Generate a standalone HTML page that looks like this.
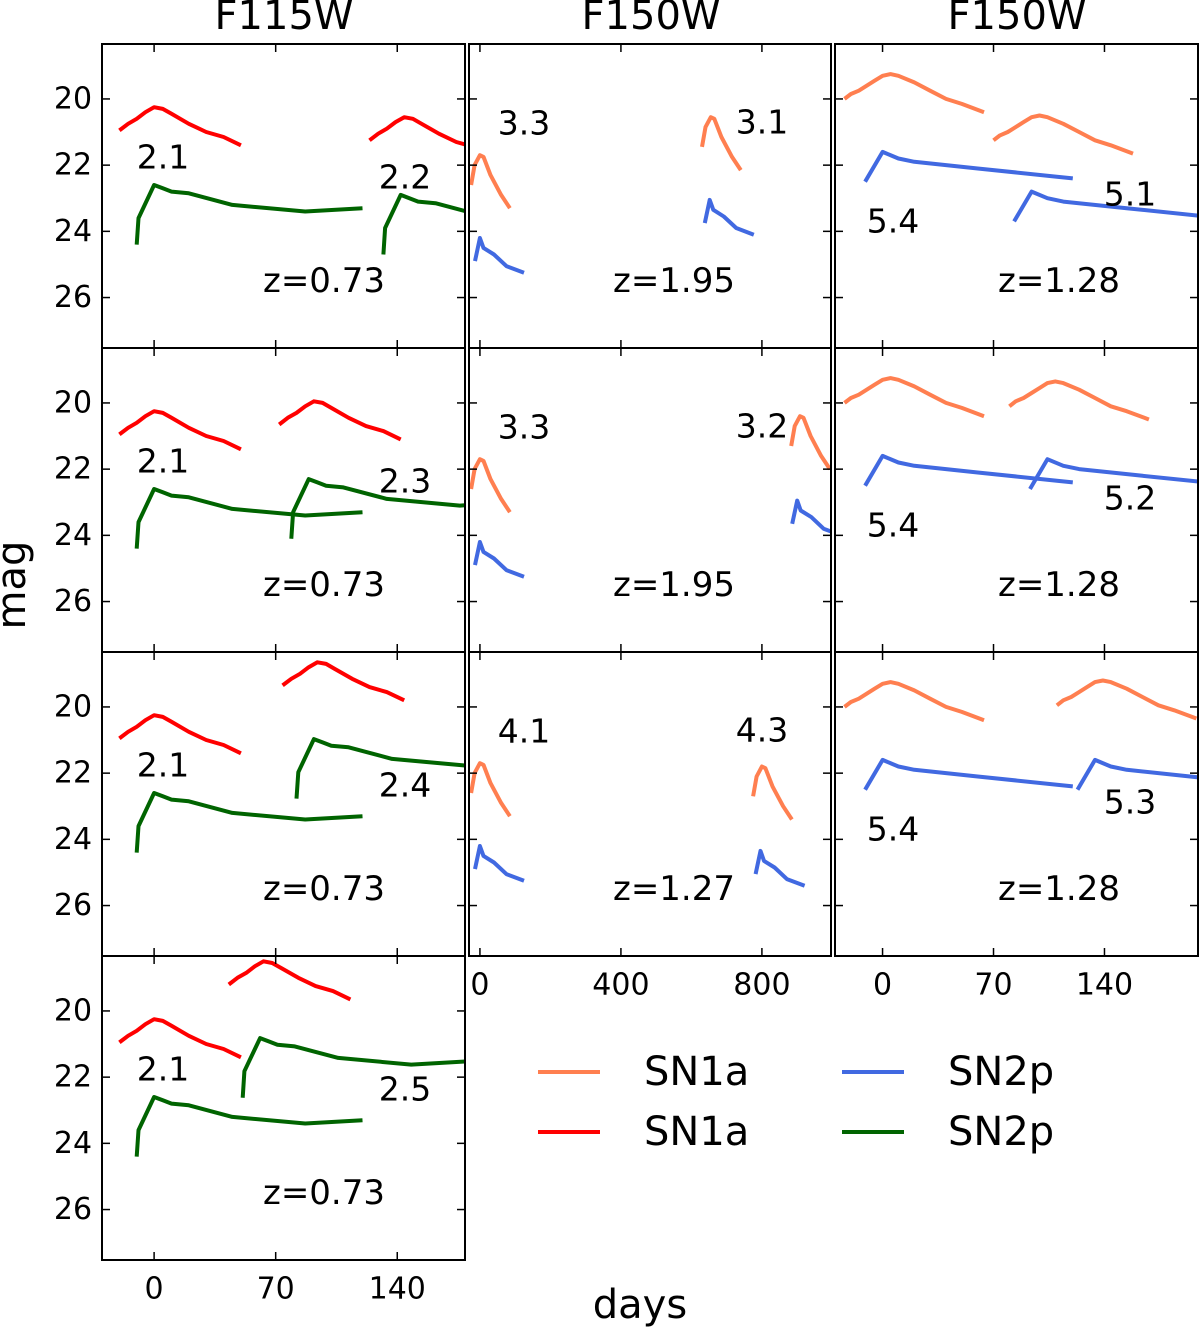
<!DOCTYPE html>
<html><head><meta charset="utf-8"><style>
body{margin:0;background:#fff}
svg{display:block;font-family:"DejaVu Sans","Liberation Sans",sans-serif}
</style></head><body>
<svg id="c" width="1200" height="1327" viewBox="0 0 1200 1327" xmlns="http://www.w3.org/2000/svg"></svg>
<script>
// ---- data ----
const ia_c1_days=[-20,-15,-10,-5,0,5,10,20,30,40,50];
const ia_c1_mag=[20.95,20.75,20.6,20.4,20.25,20.3,20.45,20.75,21.0,21.15,21.4];
const iip_c1_days=[-10,-9,0,5,10,20,45,87,120];
const iip_c1_mag=[24.4,23.6,22.6,22.7,22.8,22.85,23.2,23.4,23.3];
const ia_c2_days=[-25,-15,0,10,30,60,85];
const ia_c2_mag=[22.6,22.0,21.7,21.75,22.3,22.9,23.3];
const iip_c2_days=[-14,0,10,40,75,125];
const iip_c2_mag=[24.9,24.2,24.5,24.7,25.05,25.25];
const ia_c3_days=[-24,-20,-15,-10,-5,0,5,10,20,30,40,50,64];
const ia_c3_mag=[20.0,19.85,19.75,19.6,19.45,19.3,19.25,19.3,19.5,19.75,20.0,20.15,20.4];
const iip_c3_days=[-11,0,10,20,60,110,120];
const iip_c3_mag=[22.5,21.6,21.8,21.9,22.1,22.35,22.4];
const panelCol=[0,0,0,0,1,1,1,2,2,2];
const panelRow=[0,1,2,3,0,1,2,0,1,2];
const delayIa=[144,92,94,63,655,908,800,94,104,134];
const delayIIp=[142,89,92,61,652,900,796,94,104,134];
const dmIa=[0.3,-0.3,-1.6,-1.75,-1.15,-1.3,0.1,1.25,0.1,-0.05];
const dmIIp=[0.3,-0.3,-1.63,-1.78,-1.15,-1.25,0.15,1.2,0.1,0.0];
const label1=["2.1","2.1","2.1","2.1","3.3","3.3","4.1","5.4","5.4","5.4"];
const label2=["2.2","2.3","2.4","2.5","3.1","3.2","4.3","5.1","5.2","5.3"];
const zLabel=["z=0.73","z=0.73","z=0.73","z=0.73","z=1.95","z=1.95","z=1.27","z=1.28","z=1.28","z=1.28"];
const xTicks=[[0,70,140],[0,400,800],[0,70,140]];
const yTicks=[20,22,24,26];
const legendNames=["SN1a","SN1a","SN2p","SN2p"];

const svg=document.getElementById('c');
const NS='http://www.w3.org/2000/svg';
const colL=[102,469,835],colR=[465,831,1198];
const dayMin=[-30,-31,-30],dayMax=[179,996,199];
const rowTop=[44,348,652,956],rowH=304;
const magTop=18.34,pxPerMag=33.1;
const colorsIa=['#ff0000','#ff7f50','#ff7f50'];
const colorsIIp=['#006400','#4169e1','#4169e1'];
function xs(c,d){return colL[c]+(d-dayMin[c])/(dayMax[c]-dayMin[c])*(colR[c]-colL[c]);}
function ys(r,m){return rowTop[r]+(m-magTop)*pxPerMag;}
function el(t,a,p){const e=document.createElementNS(NS,t);for(const k in a)e.setAttribute(k,a[k]);(p||svg).appendChild(e);return e;}
function txt(x,y,s,size,name,p){const t=el('text',{x:x,y:y,'font-size':size,'text-anchor':'middle','dominant-baseline':'central',fill:'#000'},p);t.textContent=s;


return t;}
const defs=el('defs',{});
const tmpl={ia:[[ia_c1_days,ia_c1_mag],[ia_c2_days,ia_c2_mag],[ia_c3_days,ia_c3_mag]],iip:[[iip_c1_days,iip_c1_mag],[iip_c2_days,iip_c2_mag],[iip_c3_days,iip_c3_mag]]};
function curve(g,c,r,days,mags,shift,dm,color,name){
  const pts=days.map((d,i)=>xs(c,d+shift).toFixed(1)+','+ys(r,mags[i]+dm).toFixed(1)).join(' ');
  const p=el('polyline',{points:pts,fill:'none',stroke:color,'stroke-width':4,'stroke-linejoin':'round'},g);
  
  
}
for(let i=0;i<panelCol.length;i++){
  const c=panelCol[i],r=panelRow[i],x0=colL[c],x1=colR[c],y0=rowTop[r],y1=y0+rowH;
  const g=el('g',{});
  
  
  const cp=el('clipPath',{id:'cp'+i},defs);
  el('rect',{x:x0,y:y0,width:x1-x0,height:rowH},cp);
  const cg=el('g',{'clip-path':'url(#cp'+i+')'},g);
  const [ad,am]=tmpl.ia[c],[pd,pm]=tmpl.iip[c];
  curve(cg,c,r,ad,am,0,0,colorsIa[c],'sn1a-image1');
  curve(cg,c,r,ad,am,delayIa[i],dmIa[i],colorsIa[c],'sn1a-image2');
  curve(cg,c,r,pd,pm,0,0,colorsIIp[c],'sn2p-image1');
  curve(cg,c,r,pd,pm,delayIIp[i],dmIIp[i],colorsIIp[c],'sn2p-image2');
  xTicks[c].forEach(t=>{const x=xs(c,t);el('line',{x1:x,x2:x,y1:y0,y2:y0+8,stroke:'#000','stroke-width':1.5},g);el('line',{x1:x,x2:x,y1:y1,y2:y1-8,stroke:'#000','stroke-width':1.5},g);});
  yTicks.forEach(t=>{const y=ys(r,t);el('line',{x1:x0,x2:x0+8,y1:y,y2:y,stroke:'#000','stroke-width':1.5},g);el('line',{x1:x1,x2:x1-8,y1:y,y2:y,stroke:'#000','stroke-width':1.5},g);
    if(c===0)txt(x0-29,y,String(t),30,'y-tick-label',g);});
  const bottom=(c===0&&r===3)||(c>0&&r===2);
  if(bottom)xTicks[c].forEach(t=>txt(xs(c,t),y1+29,String(t),30,'x-tick-label',g));
  el('rect',{x:x0,y:y0,width:x1-x0,height:rowH,fill:'none',stroke:'#000','stroke-width':2},g);
  if(c===0){txt(163,y0+113,label1[i],33,'delay-label',g);txt(405,y0+133,label2[i],33,'delay-label',g);txt(324,y0+237,zLabel[i],34,'redshift-label',g);}
  if(c===1){txt(524,y0+79,label1[i],33,'delay-label',g);txt(762,y0+78,label2[i],33,'delay-label',g);txt(674,y0+237,zLabel[i],34,'redshift-label',g);}
  if(c===2){txt(893,y0+177,label1[i],33,'delay-label',g);txt(1130,y0+150,label2[i],33,'delay-label',g);txt(1059,y0+237,zLabel[i],34,'redshift-label',g);}
}
txt(284,16,'F115W',40,'column-title-f115w');
txt(651,16,'F150W',40,'column-title-f150w');
txt(1017,16,'F150W',40,'column-title-f150w-2');
const my=txt(12,585,'mag',40,'y-axis-title');my.setAttribute('transform','rotate(-90 12 585)');
txt(640,1305,'days',40,'x-axis-title');
const lg=el('g',{});


const legCol=['#ff7f50','#ff0000','#4169e1','#006400'],legX=[538,538,842,842],legY=[1072,1132,1072,1132];
for(let k=0;k<4;k++){
  const l=el('line',{x1:legX[k],x2:legX[k]+62,y1:legY[k],y2:legY[k],stroke:legCol[k],'stroke-width':4},lg);
  
  
  const t=txt(legX[k]+106,legY[k],legendNames[k],40,'legend-entry',lg);t.setAttribute('text-anchor','start');
}
</script>
</body></html>
